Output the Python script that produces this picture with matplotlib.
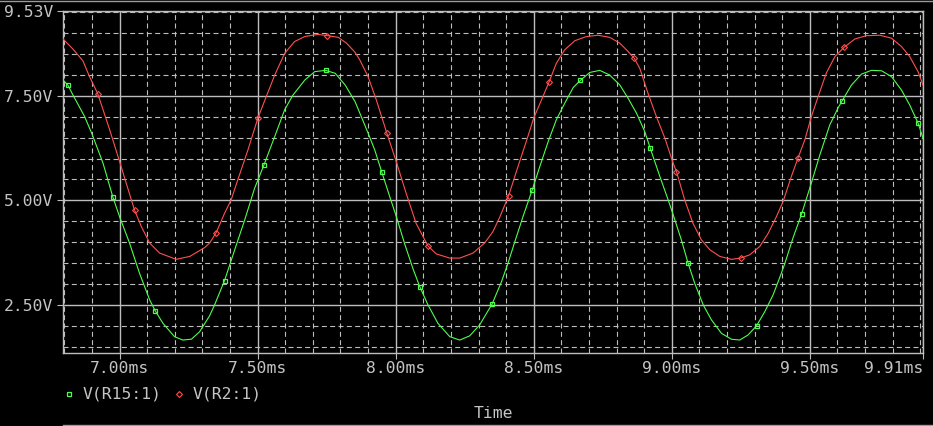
import numpy as np
import matplotlib
matplotlib.use("Agg")
import matplotlib.pyplot as plt
from matplotlib.lines import Line2D
from matplotlib.ticker import FixedLocator, MultipleLocator

# V(R15:1) trace (time in ms, volts)
r15_t = [6.795, 6.813, 6.831, 6.873, 6.900, 6.940, 6.976, 7.000, 7.036, 7.072,
         7.109, 7.129, 7.157, 7.199, 7.229, 7.260, 7.290, 7.308, 7.326, 7.344,
         7.380, 7.417, 7.453, 7.489, 7.523, 7.562, 7.598, 7.628, 7.671, 7.707,
         7.746, 7.781, 7.817, 7.853, 7.870, 7.900, 7.924, 7.950, 7.978, 8.002,
         8.033, 8.063, 8.087, 8.117, 8.153, 8.196, 8.232, 8.268, 8.304, 8.349,
         8.383, 8.407, 8.431, 8.461, 8.494, 8.522, 8.552, 8.582, 8.612, 8.643,
         8.669, 8.703, 8.739, 8.775, 8.812, 8.842, 8.872, 8.902, 8.922, 8.957,
         8.987, 9.005, 9.035, 9.059, 9.083, 9.114, 9.144, 9.180, 9.216, 9.246,
         9.276, 9.307, 9.337, 9.367, 9.397, 9.409, 9.439, 9.470, 9.504, 9.536,
         9.572, 9.603, 9.617, 9.651, 9.687, 9.723, 9.760, 9.796, 9.832, 9.862,
         9.892, 9.910]
r15_v = [7.88, 7.755, 7.52, 7.01, 6.59, 5.89, 5.07, 4.61, 3.98, 3.26,
         2.62, 2.36, 2.06, 1.74, 1.66, 1.68, 1.86, 2.05, 2.24, 2.50,
         3.08, 3.82, 4.53, 5.29, 5.85, 6.53, 7.17, 7.52, 7.88, 8.08,
         8.11, 8.04, 7.76, 7.36, 7.09, 6.61, 6.21, 5.67, 5.10, 4.62,
         3.95, 3.36, 2.94, 2.50, 2.06, 1.74, 1.66, 1.76, 2.02, 2.52,
         3.05, 3.50, 4.00, 4.61, 5.24, 5.81, 6.40, 6.93, 7.32, 7.70,
         7.87, 8.06, 8.11, 8.00, 7.76, 7.44, 7.09, 6.65, 6.25, 5.57,
         5.01, 4.66, 4.05, 3.50, 3.02, 2.50, 2.14, 1.82, 1.68, 1.66,
         1.78, 2.00, 2.34, 2.74, 3.26, 3.48, 4.10, 4.67, 5.38, 6.08,
         6.80, 7.22, 7.38, 7.76, 8.02, 8.11, 8.10, 7.96, 7.64, 7.28,
         6.85, 6.49]
r15_marks = [6.813, 6.976, 7.129, 7.380, 7.523, 7.746, 7.950, 8.087, 8.349,
             8.494, 8.669, 8.922, 9.059, 9.307, 9.470, 9.617, 9.892]

# V(R2:1) trace
r2_t = [6.795, 6.831, 6.867, 6.891, 6.921, 6.964, 7.000, 7.024, 7.054, 7.079,
        7.109, 7.145, 7.205, 7.254, 7.290, 7.308, 7.326, 7.350, 7.380, 7.404,
        7.428, 7.465, 7.501, 7.531, 7.562, 7.598, 7.634, 7.671, 7.719, 7.753,
        7.792, 7.822, 7.853, 7.870, 7.900, 7.930, 7.968, 8.002, 8.038, 8.074,
        8.117, 8.147, 8.196, 8.232, 8.280, 8.322, 8.352, 8.377, 8.409, 8.443,
        8.473, 8.500, 8.528, 8.556, 8.582, 8.612, 8.649, 8.691, 8.733, 8.775,
        8.812, 8.842, 8.864, 8.884, 8.914, 8.944, 8.975, 9.005, 9.017, 9.047,
        9.077, 9.107, 9.138, 9.174, 9.216, 9.249, 9.283, 9.319, 9.349, 9.379,
        9.403, 9.433, 9.457, 9.482, 9.506, 9.530, 9.560, 9.591, 9.624, 9.663,
        9.705, 9.754, 9.796, 9.832, 9.862, 9.892, 9.910]
r2_v = [8.86, 8.62, 8.34, 7.96, 7.55, 6.69, 5.93, 5.41, 4.77, 4.37,
        3.98, 3.74, 3.59, 3.66, 3.80, 3.87, 3.98, 4.23, 4.69, 5.01,
        5.49, 6.21, 6.97, 7.48, 8.00, 8.52, 8.80, 8.92, 8.97, 8.94,
        8.90, 8.76, 8.54, 8.36, 7.96, 7.40, 6.61, 5.93, 5.17, 4.45,
        3.91, 3.72, 3.62, 3.62, 3.74, 3.98, 4.25, 4.60, 5.11, 5.81,
        6.41, 6.97, 7.40, 7.84, 8.28, 8.60, 8.82, 8.92, 8.95, 8.90,
        8.76, 8.56, 8.40, 8.16, 7.56, 7.01, 6.49, 5.89, 5.69, 5.01,
        4.45, 4.06, 3.82, 3.66, 3.59, 3.62, 3.70, 3.90, 4.21, 4.61,
        4.97, 5.57, 6.01, 6.45, 7.01, 7.48, 8.05, 8.44, 8.66, 8.86,
        8.94, 8.95, 8.88, 8.68, 8.44, 8.08, 7.76]
r2_marks = [6.921, 7.054, 7.350, 7.501, 7.753, 7.968, 8.117, 8.409, 8.556,
            8.864, 9.017, 9.249, 9.457, 9.624]

x_ticks = [7.00, 7.50, 8.00, 8.50, 9.00, 9.50, 9.91]
x_labels = ["7.00ms", "7.50ms", "8.00ms", "8.50ms", "9.00ms", "9.50ms", "9.91ms"]
y_ticks = [2.50, 5.00, 7.50, 9.53]
y_labels = ["2.50V", "5.00V", "7.50V", "9.53V"]
x_range = (6.795, 9.91)
y_range = (1.35, 9.53)

GREEN = "#4dff4d"
RED = "#ff5050"
GRAY = "#bdbdbd"
TEXT = "#c4c4c4"
W, H = 933, 426

plt.rcParams["font.family"] = ["DejaVu Sans Mono"]

fig = plt.figure(figsize=(W / 100, H / 100), dpi=100, facecolor="black")
ax = fig.add_axes([63 / W, 1 - 353 / H, 860 / W, 342 / H], facecolor="black")

ax.set_xlim(*x_range)
ax.set_ylim(*y_range)
ax.xaxis.set_major_locator(FixedLocator(x_ticks))
ax.set_xticklabels(x_labels)
ax.yaxis.set_major_locator(FixedLocator(y_ticks))
ax.set_yticklabels(y_labels)
ax.xaxis.set_minor_locator(MultipleLocator(0.1))
ax.yaxis.set_minor_locator(MultipleLocator(0.5))

ax.grid(which="major", color=GRAY, lw=1.0, ls="-")
ax.grid(which="minor", color=GRAY, lw=0.8, ls=(0, (4.5, 3.0)))
ax.tick_params(which="minor", length=0)
ax.tick_params(which="major", direction="out", length=4.3, width=0.8, color=GRAY,
               labelcolor=TEXT, labelsize=11.8)
ax.tick_params(axis="x", pad=1.5)
ax.tick_params(axis="y", pad=2.8)
# last time label sits flush with the right edge, as on the probe screen
ax.get_xticklabels()[-1].set_horizontalalignment("right")
for s in ax.spines.values():
    s.set_color(GRAY)
    s.set_linewidth(1.0)

# traces, markers only at the probe sample points
r15_idx = list(np.where(np.isin(r15_t, r15_marks))[0])
r2_idx = list(np.where(np.isin(r2_t, r2_marks))[0])
ax.plot(r15_t, r15_v, color=GREEN, lw=0.8, marker="s", markevery=r15_idx,
        ms=3.4, mfc="none", mec=GREEN, mew=0.9, zorder=3)
ax.plot(r2_t, r2_v, color=RED, lw=0.8, marker="D", markevery=r2_idx,
        ms=3.0, mfc="none", mec=RED, mew=0.8, zorder=3)

# legend row under the axis
ly = 1 - 394 / H
fig.add_artist(Line2D([69 / W], [ly], marker="s", ms=3.4, mfc="none", mec=GREEN, mew=0.9, ls="none"))
fig.text(83 / W, ly, "V(R15:1)", color=TEXT, fontsize=11.8, va="center", ha="left")
fig.add_artist(Line2D([179 / W], [ly], marker="D", ms=3.0, mfc="none", mec=RED, mew=0.8, ls="none"))
fig.text(193 / W, ly, "V(R2:1)", color=TEXT, fontsize=11.8, va="center", ha="left")

fig.text(493 / W, 1 - 413 / H, "Time", color=TEXT, fontsize=11.8, va="center", ha="center")

# window frame lines
fig.add_artist(Line2D([0, 1], [1 - 0.8 / H] * 2, color="#9a9a9a", lw=1.0))
fig.add_artist(Line2D([63 / W, 1], [1 - 425 / H] * 2, color="#9a9a9a", lw=1.0))

fig.savefig("out.png", dpi=100, facecolor="black")
